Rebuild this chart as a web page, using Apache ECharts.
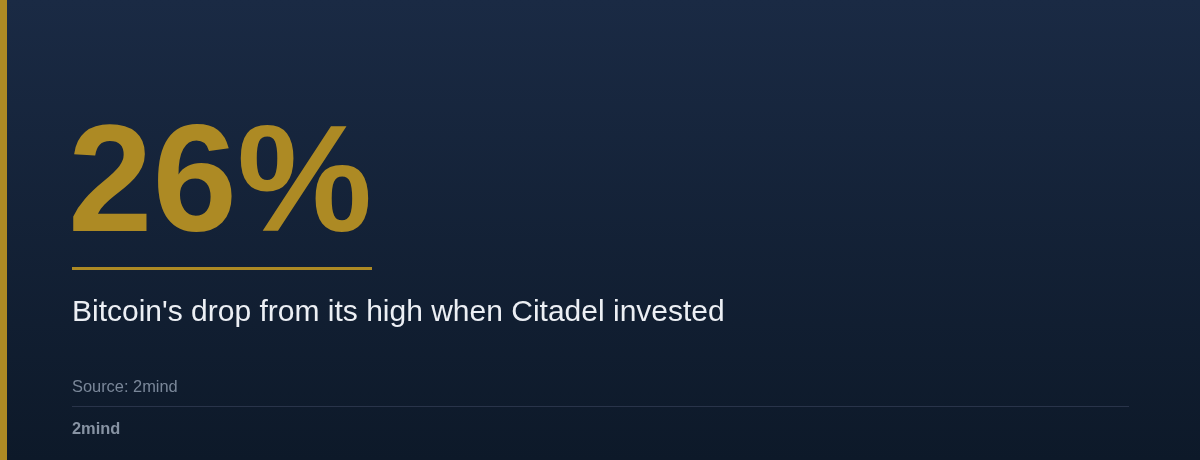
<!DOCTYPE html>
<html>
<head>
<meta charset="utf-8">
<script src="https://cdn.jsdelivr.net/npm/echarts@6/dist/echarts.min.js"></script>
<style>
html,body{margin:0;padding:0;background:#0e1a29;}
#c{width:1200px;height:460px;}
</style>
</head>
<body>
<div id="c"></div>
<script>
var statValue = ['26%'];
var statLabel = ["Bitcoin's drop from its high when Citadel invested"];
var sourceText = ['Source: 2mind'];
var brandText = ['2mind'];

var chart = echarts.init(document.getElementById('c'), null, {renderer: 'canvas'});
var FONT = '"Liberation Sans", Arial, Helvetica, sans-serif';
chart.setOption({
  animation: false,
  backgroundColor: {
    type: 'linear', x: 0, y: 0, x2: 0, y2: 1,
    colorStops: [{offset: 0, color: '#1a2a44'}, {offset: 1, color: '#0d1929'}]
  },
  graphic: [
    {type: 'rect', shape: {x: 0, y: 0, width: 7, height: 460}, style: {fill: '#ad8a24'}},
    {type: 'text', style: {x: 68, y: 189, text: statValue[0], fill: '#ad8a24',
      font: 'bold 152px ' + FONT, verticalAlign: 'middle', align: 'left'}},
    {type: 'rect', shape: {x: 72, y: 267, width: 300, height: 3}, style: {fill: '#ad8a24'}},
    {type: 'text', style: {x: 72, y: 313, text: statLabel[0], fill: '#eceff4',
      font: '30px ' + FONT, verticalAlign: 'middle', align: 'left'}},
    {type: 'text', style: {x: 72, y: 387.5, text: sourceText[0], fill: '#7a8799',
      font: '16.4px ' + FONT, verticalAlign: 'middle', align: 'left'}},
    {type: 'rect', shape: {x: 72, y: 406, width: 1057, height: 1}, style: {fill: '#29344a'}},
    {type: 'text', style: {x: 72, y: 429, text: brandText[0], fill: '#8793a3',
      font: 'bold 16.4px ' + FONT, verticalAlign: 'middle', align: 'left'}}
  ]
});
</script>
</body>
</html>
